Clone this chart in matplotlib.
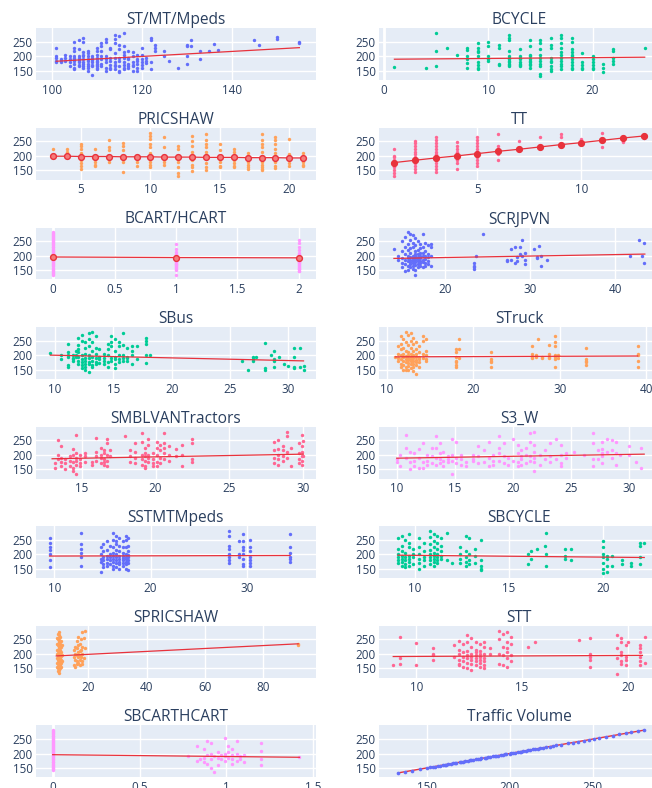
import numpy as np
import matplotlib
matplotlib.use("Agg")
import matplotlib.pyplot as plt
from matplotlib.ticker import FuncFormatter

plt.rcParams['font.family'] = ['Open Sans', 'DejaVu Sans']

# ---- data: (x, [traffic volume values]) columns ----
st_cols = [(101, [230, 200, 195, 183, 182]), (102, [190, 185, 180]), (103, [205, 195, 183]),
           (104, [200, 190, 182, 165]), (105, [250, 230, 220, 200, 195, 190, 185, 175, 160, 155]),
           (106, [255, 225, 200, 195, 190, 185, 180, 170, 165]),
           (107, [265, 250, 215, 205, 200, 190, 180, 172, 165, 160]),
           (108, [220, 210, 200, 190, 185, 175, 165, 160, 150]), (109, [200, 195, 188, 180, 170, 165, 135]),
           (110, [230, 220, 205, 195, 190, 185, 180, 175, 170, 165, 160, 155]),
           (111, [245, 235, 220, 200, 190, 175, 165]), (112, [260, 250, 200, 190, 180, 160, 150]),
           (113, [230, 225, 195, 185, 170, 160, 155]), (114, [275, 260, 245, 210, 195, 180, 170, 165, 155]),
           (115, [270, 240, 225, 195, 185, 165, 150, 145]), (116, [280, 235, 215, 205, 195, 180, 170, 160, 155]),
           (117, [220, 195, 190, 175, 165, 160]), (118, [215, 200, 180, 170, 165, 150]),
           (119, [205, 190, 185, 175, 160, 150]), (120, [228, 205, 190, 180, 170, 160]),
           (121, [195, 185, 178]), (122, [265, 258, 182, 155]), (123, [240, 230, 218]), (125, [220, 200]),
           (126, [183]), (128, [158]), (130, [240, 235, 200, 172]), (131, [255, 235]), (133, [220, 190]),
           (135, [220]), (136, [242]), (137, [222]), (145, [255]), (146, [240]), (150, [268, 260]),
           (155, [250, 245])]
st_trend = [(101, 183), (155, 230)]

bcycle_cols = [(1, [163]), (4, [158]), (5, [280, 220, 165]), (6, [228]), (7, [203]),
               (8, [228, 222, 200, 190, 178, 160]), (9, [245, 230, 220, 215, 200, 180, 170, 160, 155]),
               (10, [248, 235, 200, 190, 185]), (11, [240, 228, 175, 170]),
               (12, [275, 265, 255, 220, 200, 195, 190, 185, 180, 175, 170, 165]),
               (13, [225, 200, 195, 190, 180, 175, 170, 165]),
               (14, [255, 235, 205, 200, 190, 185, 180, 175, 170, 160]),
               (15, [255, 245, 225, 205, 195, 185, 175, 165, 140, 132]),
               (16, [265, 240, 230, 195, 185, 180, 165, 155, 150]),
               (17, [275, 265, 245, 230, 215, 205, 195, 185, 175, 165, 155]),
               (18, [265, 250, 225, 215, 205, 200, 190, 180, 170, 160, 155]),
               (19, [212, 180, 170, 160, 155]), (20, [200, 190, 180, 170, 160, 155]),
               (21, [175, 160, 145]), (22, [225, 220, 195, 185, 175]), (25, [228])]
bcycle_trend = [(1, 190), (25, 197)]

pricshaw_cols = [(3, [225, 200]), (4, [225, 215, 205, 200]),
                 (5, [240, 235, 225, 210, 195, 185, 175, 165, 155]), (6, [225, 200, 190, 180, 170, 165]),
                 (7, [255, 230, 220, 200, 190, 180]), (8, [245, 235, 220, 200, 190, 180, 145]),
                 (9, [200, 180, 165]), (10, [280, 270, 260, 240, 230, 210, 200, 190, 180, 170, 160]),
                 (11, [265, 230, 200, 190, 180, 170]), (12, [235, 225, 200, 190, 180, 160, 140, 130]),
                 (13, [270, 250, 235, 215, 195, 185, 170, 160, 148]),
                 (14, [275, 255, 240, 230, 215, 200, 190, 175, 160, 150]),
                 (15, [240, 220, 200, 190, 180, 165, 160]), (16, [225, 215, 195, 185, 175, 165, 160]),
                 (17, [210, 195, 180, 170, 160, 155]),
                 (18, [275, 255, 240, 230, 215, 200, 190, 180, 170, 160, 155, 150]),
                 (19, [265, 255, 240, 225, 210, 195, 180, 165, 158]), (20, [258, 205, 190, 175, 165]),
                 (21, [210, 195, 180, 170, 165])]
pricshaw_trend = [(3, 199), (4, 199), (5, 198), (6, 198), (7, 198), (8, 197), (9, 197), (10, 197),
                  (11, 196), (12, 196), (13, 196), (14, 195), (15, 195), (16, 195), (17, 194),
                  (18, 194), (19, 194), (20, 193), (21, 193)]

tt_cols = [(1, [225, 200, 195, 185, 178, 170, 165, 160, 150, 140, 130]),
           (2, [250, 245, 235, 225, 215, 205, 195, 185, 175, 165, 155, 145]),
           (3, [265, 255, 245, 235, 225, 215, 205, 195, 185, 175, 165, 155, 145]),
           (4, [248, 235, 225, 215, 205, 195, 185, 175, 155]),
           (5, [265, 255, 245, 235, 225, 215, 205, 195, 185, 175, 165]),
           (6, [275, 235, 220, 205, 185]), (7, [250, 225]), (8, [265, 232]), (9, [275, 265, 240]),
           (10, [260, 248]), (11, [280, 255, 232]), (12, [262, 248]), (13, [268, 262])]
tt_trend = [(1, 177), (2, 185), (3, 193), (4, 200), (5, 208), (6, 216), (7, 223), (8, 231),
            (9, 239), (10, 246), (11, 254), (12, 262), (13, 269)]

bcart_cols = [(0, [282, 279, 275, 272, 268, 264, 261, 257, 253, 250, 246, 242, 239, 235, 231, 228,
                   224, 220, 217, 213, 209, 206, 202, 198, 195, 191, 188, 184, 180, 177, 173, 169,
                   166, 162, 158, 155, 151, 147, 144, 140, 137, 134]),
              (1, [241, 224, 212, 206, 203, 199, 196, 193, 190, 187, 184, 181, 178, 175, 172, 169,
                   166, 163, 160, 157, 154, 151, 133]),
              (2, [255, 243, 230, 218, 207, 204, 200, 197, 194, 191, 188, 185, 182, 179, 176, 173,
                   170, 167, 164, 161, 158, 155, 152, 148, 145])]
bcart_trend = [(0, 195), (1, 193), (2, 192)]

scrjpvn_cols = [(14.0, [222]), (14.5, [200, 185]), (15.0, [250, 215, 190, 175, 160]),
                (15.3, [265, 230, 205, 185, 170, 145]), (15.6, [280, 240, 220, 200, 190, 180, 165, 150]),
                (15.9, [275, 255, 225, 210, 195, 185, 178, 170, 160]),
                (16.2, [270, 245, 230, 200, 192, 186, 180, 175, 165, 155]),
                (16.5, [260, 235, 215, 205, 198, 190, 183, 176, 168, 150, 133]),
                (16.8, [250, 220, 205, 195, 188, 180, 172, 160]),
                (17.1, [240, 225, 210, 200, 190, 182, 175, 165]),
                (17.4, [275, 230, 210, 198, 185, 178, 160]), (17.7, [245, 215, 200, 188, 175, 165]),
                (18.0, [235, 205, 195, 180, 170]), (18.4, [240, 230, 200, 165]),
                (23.4, [175, 165, 160, 155]), (23.6, [197]), (24.5, [275]), (27.3, [185, 180]),
                (27.8, [222, 183]), (28.2, [228, 175]), (28.5, [195, 180]), (28.8, [230, 205]),
                (29.1, [255, 198]), (29.4, [210, 185, 170]), (30.5, [222]), (30.8, [195, 190]),
                (31.0, [232]), (31.3, [200, 165]), (32.0, [185]), (41.8, [198]), (42.8, [255]),
                (43.2, [200]), (43.4, [245, 175])]
scrjpvn_trend = [(14, 190), (43.5, 205)]

sbus_cols = [(9.6, [207]), (10.5, [200, 187]), (11.1, [240, 210, 200, 193, 165, 160]),
             (11.5, [200, 190, 185, 178]), (11.8, [215, 200, 195]),
             (12.0, [260, 235, 220, 210, 195, 180, 170]), (12.3, [270, 250, 200, 185, 175, 165, 155]),
             (12.6, [245, 225, 205, 190, 180, 170, 160, 148]),
             (12.9, [275, 255, 230, 200, 190, 175, 168, 140]), (13.2, [280, 245, 215, 195, 180, 165, 160]),
             (13.5, [265, 225, 205, 190, 175, 168]), (13.8, [222, 195, 185, 172]),
             (14.2, [205, 190, 180, 170]), (14.5, [240, 220, 200, 175, 160]),
             (14.8, [265, 245, 230, 190, 180]), (15.1, [255, 215, 195, 185, 170, 155]),
             (15.5, [245, 230, 200, 185, 175]), (15.8, [275, 235, 200, 190, 178]),
             (16.2, [225, 195, 190, 180]), (16.6, [230, 215, 200, 170]), (17.0, [230, 185]),
             (17.8, [258, 250, 240, 200, 172]), (18.1, [200]), (26.0, [180]), (26.5, [150]),
             (27.0, [192, 185, 178]), (27.2, [195]), (28.0, [243, 155, 150]), (28.5, [200]),
             (28.8, [215, 185, 178, 160]), (29.2, [195]), (29.6, [168]), (30.0, [163]),
             (30.5, [225, 195, 160, 155]), (31.0, [225, 158]), (31.3, [162, 150])]
sbus_trend = [(9.6, 200), (31.3, 180)]

struck_cols = [(11.0, [195]), (11.3, [230, 205, 190, 180]), (11.6, [265, 240, 220, 200, 185, 170, 160]),
               (11.9, [255, 225, 205, 195, 180, 165, 150]), (12.2, [280, 245, 215, 198, 188, 175, 160, 148]),
               (12.5, [270, 235, 210, 200, 190, 182, 172, 162, 150]),
               (12.8, [275, 250, 225, 205, 195, 185, 178, 168, 155]),
               (13.1, [260, 240, 215, 200, 190, 180, 170, 160, 145]),
               (13.4, [245, 220, 205, 195, 183, 175, 165, 135]), (13.7, [230, 210, 195, 185, 175, 160]),
               (14.2, [265, 250, 205, 190]), (14.6, [255, 215, 200, 185, 180]),
               (18.0, [220, 210, 195, 180, 175, 165, 160]), (18.4, [255, 220, 190]),
               (22.0, [210, 185, 180, 175, 160]), (26.8, [230, 205, 195, 190]), (27.2, [200, 195]),
               (27.5, [255]), (28.0, [195, 190]), (28.8, [235, 205, 195, 190]),
               (29.5, [265, 245, 230, 200, 195, 185, 160]), (29.8, [200, 190]),
               (33.0, [225, 185, 180, 175, 165]), (39.0, [230, 205, 200, 180, 160])]
struck_trend = [(11, 194), (39, 197)]

smblvan_cols = [(13.2, [170, 155]), (13.4, [250, 200, 185]), (13.6, [230, 190, 175, 160]),
                (13.9, [185, 170, 150]), (14.2, [195, 180, 160]), (14.4, [220, 200, 175, 155, 145]),
                (14.6, [270, 205, 190, 180, 165, 135]), (14.9, [200, 185, 170, 160]),
                (15.2, [205, 195, 175]), (15.7, [175, 165]), (16.0, [258, 210, 195, 180]),
                (16.3, [225, 200, 190, 170]), (16.5, [215, 205, 185, 175, 165]),
                (16.7, [255, 240, 200, 180, 160]), (16.9, [215, 195]), (17.9, [265]),
                (18.3, [215, 195, 175]), (18.6, [240, 210, 190, 170]), (19.1, [275, 245, 200, 185, 165]),
                (19.3, [225, 205, 195, 180, 160, 155]), (19.5, [255, 235, 200, 190, 175]),
                (19.8, [205, 185, 170, 160]), (20.1, [245, 225, 200, 175, 160]),
                (20.3, [235, 215, 190, 170]), (20.6, [275, 240, 225, 205, 185]), (20.9, [230, 200, 180]),
                (21.4, [220, 195]), (21.8, [235, 200, 160]), (22.5, [255, 240, 185, 175]),
                (28.0, [245, 215, 190, 170]), (28.3, [250, 220, 200, 185, 165]),
                (28.6, [230, 215, 195, 180]), (28.9, [280, 265, 210, 190]), (29.2, [225, 160]),
                (29.7, [240, 205, 185, 170]), (29.9, [270, 230, 210, 195, 180, 165]), (30.0, [248, 195])]
smblvan_trend = [(13, 186), (30, 202)]

s3w_cols = [(10.0, [185, 175]), (10.3, [200, 160]), (10.8, [268, 225, 190]), (11.1, [210, 175, 150]),
            (11.5, [205, 180, 160]), (11.9, [220, 190, 155]), (12.3, [240, 175, 155]),
            (12.6, [200, 180, 165]), (13.0, [225, 195, 170]), (13.4, [265, 225, 190, 165]),
            (13.7, [240, 205, 185, 170]), (14.0, [210, 180, 160]), (14.4, [195, 185, 175]),
            (14.8, [255, 200, 180, 135]), (15.1, [245, 190, 170]), (15.5, [200, 185, 165]),
            (16.0, [175, 160]), (16.6, [200, 185, 180]), (17.0, [230, 195, 170]), (17.5, [215, 175]),
            (17.9, [245, 190, 160]), (18.3, [200, 180, 165]), (18.8, [265, 225, 205, 180]),
            (19.2, [240, 195, 170]), (19.6, [190, 165]), (20.0, [255, 180]), (20.4, [235, 205, 175, 160]),
            (20.7, [215, 195, 185, 165]), (21.1, [225, 200, 170]), (21.5, [275, 245, 195, 180]),
            (21.8, [280, 235, 210, 190, 175, 145]), (22.3, [200, 165]), (22.8, [215, 185]),
            (23.2, [240, 195, 175]), (23.7, [255, 185]), (24.1, [235, 200, 170, 160]),
            (24.6, [205, 190]), (25.3, [210]), (26.1, [200]), (26.9, [275, 240, 185, 160]),
            (27.3, [215, 185]), (27.7, [245, 220, 205, 195, 170]), (28.1, [255, 210]),
            (28.5, [250, 215, 190]), (28.9, [245, 205, 165]), (29.2, [200]), (30.0, [230, 200]),
            (30.6, [175]), (31.0, [225, 155])]
s3w_trend = [(10, 188), (31.3, 202)]

sstmt_cols = [(9.5, [255, 240, 225, 215, 200, 180, 155]), (12.8, [275, 235, 220, 205, 190, 158]),
              (14.8, [225, 200, 185, 175, 140]), (15.1, [235, 210, 190, 180, 165, 155]),
              (15.5, [245, 215, 195, 185, 170, 160]), (15.8, [230, 200, 190, 180, 165]),
              (16.1, [275, 250, 225, 205, 195, 185, 175, 160, 150]),
              (16.4, [265, 245, 235, 215, 200, 190, 180, 170, 155]),
              (16.7, [255, 230, 210, 195, 185, 175, 165, 150]),
              (17.1, [245, 225, 205, 195, 188, 180, 170, 160]),
              (17.4, [265, 250, 225, 200, 192, 185, 175, 165, 150]),
              (17.7, [255, 230, 210, 198, 190, 180, 170, 145]),
              (28.2, [280, 265, 230, 220, 200, 190, 180, 170]), (29.2, [245, 200, 190]),
              (29.6, [270, 245, 225, 215, 200, 185, 165, 160]), (30.3, [250, 225, 210, 190, 180, 170, 160]),
              (34.5, [270, 225, 205, 190, 185, 175])]
sstmt_trend = [(9.5, 194), (34.5, 196)]

sbcycle_cols = [(9.1, [255, 220, 200, 190, 180, 170]), (9.3, [265, 230, 210, 195, 185, 175, 160]),
                (9.5, [250, 205, 190, 180, 165, 155]), (9.7, [270, 240, 225, 195, 185, 175, 160]),
                (9.9, [220, 200, 190, 165]), (10.2, [255, 225, 200, 185, 170, 150]),
                (10.5, [240, 210, 190, 180, 160]), (10.8, [280, 260, 235, 215, 200, 190, 180, 165]),
                (11.0, [270, 245, 225, 205, 195, 185, 175, 160]),
                (11.2, [265, 240, 220, 200, 190, 180, 170]), (11.4, [255, 230, 210, 195, 185]),
                (11.7, [275, 180]), (12.0, [170]), (12.4, [225, 200, 185, 170]),
                (12.7, [265, 210, 190, 175, 160]), (12.9, [255, 200, 180, 165]), (13.2, [220, 195, 170]),
                (13.5, [248, 180, 160, 150, 145]), (16.0, [200, 165]), (16.2, [210, 185]), (16.5, [220]),
                (16.9, [230]), (17.0, [275, 200, 160]), (18.0, [220, 195, 185]), (18.3, [220, 180]),
                (20.0, [245, 225, 200, 190, 170, 150, 135]), (20.2, [195, 185, 160, 140]),
                (20.5, [195, 160]), (21.0, [180, 165]), (21.5, [170, 160]), (22.0, [240, 230, 190, 165]),
                (22.2, [240])]
sbcycle_trend = [(9.1, 197), (22.2, 189)]

spricshaw_cols = [(9.2, [255, 235, 215, 200, 185, 170, 155]),
                  (9.5, [270, 250, 230, 210, 195, 180, 165, 150, 140]),
                  (9.8, [265, 245, 225, 205, 190, 178, 168, 158, 145, 133]),
                  (10.1, [275, 255, 240, 220, 200, 188, 175, 160, 148]),
                  (10.4, [260, 235, 212, 198, 185, 172, 162, 150]),
                  (10.7, [245, 225, 205, 192, 180, 168, 155]), (11.0, [230, 195, 175]),
                  (15.0, [215, 190, 160]), (15.5, [225, 200, 180, 155]), (16.0, [245, 220, 195, 175, 165]),
                  (16.5, [260, 230, 205, 190, 170]), (17.0, [235, 210, 195, 180, 160]),
                  (17.5, [250, 215, 190]), (18.0, [275, 225, 200, 175, 165]), (18.5, [255, 185]),
                  (19.0, [280, 220]), (92, [235, 230])]
spricshaw_trend = [(9, 193), (92, 235)]

stt_cols = [(8.9, [163]), (9.2, [258, 185, 165]), (10.0, [238, 160]), (10.8, [220, 200, 195, 180]),
            (11.8, [230, 190]), (12.0, [245, 215, 200, 180, 165, 160]), (12.2, [235, 205, 190, 175, 155]),
            (12.4, [265, 240, 210, 195, 185, 170, 150]), (12.6, [255, 225, 200, 190, 180, 165, 145]),
            (12.8, [240, 215, 205, 195, 185, 175, 160]), (13.0, [235, 210, 200, 190, 180, 170, 155]),
            (13.2, [240, 225, 200, 185, 175, 160, 150]), (13.5, [220, 200]), (13.9, [280, 250, 200, 165]),
            (14.1, [270, 225, 195, 160]), (14.3, [275, 240, 220, 205, 185, 155]),
            (14.5, [260, 235, 195, 175]), (15.3, [225]), (15.6, [242]), (17.7, [248]),
            (18.2, [255, 200, 190, 180, 155]), (19.5, [265, 220, 185, 130]),
            (19.7, [255, 240, 205, 195, 175, 165]), (19.9, [230, 190, 180, 160]), (20.0, [240]),
            (20.6, [232, 220, 205, 190, 175, 160]), (20.8, [258, 170])]
stt_trend = [(8.9, 191), (20.7, 195)]

sbcart_cols = [(0, [280, 277, 273, 270, 266, 262, 259, 255, 252, 248, 244, 241, 237, 234, 230, 226,
                    223, 219, 216, 212, 208, 205, 201, 198, 194, 190, 187, 183, 180, 176, 172, 169,
                    165, 162, 158, 154, 151, 147, 144]),
               (0.78, [190]), (0.83, [225, 175]), (0.85, [180]), (0.87, [215, 185, 170]),
               (0.89, [245, 195, 165]), (0.91, [235, 200, 180, 150]), (0.93, [190, 135]),
               (0.95, [205, 185, 160]), (0.97, [195, 180]), (0.99, [255, 200, 190, 175]),
               (1.01, [225, 205, 185]), (1.03, [215, 195, 180, 165]), (1.06, [245, 200, 175]),
               (1.08, [190, 180]), (1.10, [195, 170]), (1.20, [235, 210, 180, 160]), (1.42, [188])]
sbcart_trend = [(0, 196), (1.42, 187)]

traffic_vals = [133, 137, 141, 146, 150, 152, 154, 155, 157, 158, 160, 161, 162, 163, 165, 166,
                167, 168, 170, 171, 172, 173, 175, 176, 177, 178, 180, 181, 182, 183, 185, 186,
                187, 188, 190, 191, 192, 193, 195, 196, 197, 198, 200, 201, 202, 203, 205, 206,
                207, 208, 210, 211, 212, 214, 215, 217, 218, 220, 222, 224, 226, 228, 231, 235,
                238, 241, 245, 248, 251, 254, 258, 262, 266, 270, 273, 277, 281]
traffic_cols = [(v, [v]) for v in traffic_vals]
traffic_trend = [(133, 133), (281, 281)]

titles = ["ST/MT/Mpeds", "BCYCLE", "PRICSHAW", "TT", "BCART/HCART", "SCRJPVN", "SBus", "STruck",
          "SMBLVANTractors", "S3_W", "SSTMTMpeds", "SBCYCLE", "SPRICSHAW", "STT", "SBCARTHCART",
          "Traffic Volume"]
cols_all = [st_cols, bcycle_cols, pricshaw_cols, tt_cols, bcart_cols, scrjpvn_cols, sbus_cols,
            struck_cols, smblvan_cols, s3w_cols, sstmt_cols, sbcycle_cols, spricshaw_cols, stt_cols,
            sbcart_cols, traffic_cols]
trends = [st_trend, bcycle_trend, pricshaw_trend, tt_trend, bcart_trend, scrjpvn_trend, sbus_trend,
          struck_trend, smblvan_trend, s3w_trend, sstmt_trend, sbcycle_trend, spricshaw_trend,
          stt_trend, sbcart_trend, traffic_trend]

# layout / style
palette = ["#636EFA", "#00CC96", "#FFA15A", "#FF6692", "#FF97FF"]
xlims = [(96.5, 158.7), (-0.45, 26.4), (1.76, 21.92), (0.28, 13.75), (-0.14, 2.14), (12.28, 45.2),
         (8.37, 32.37), (9.15, 41.5), (11.91, 30.86), (8.5, 32.6), (8.09, 37.2), (8.11, 23.0),
         (2.05, 98.1), (8.24, 21.5), (-0.096, 1.515), (121.6, 290)]
xticks = [[100, 120, 140], [0, 10, 20], [5, 10, 15, 20], [5, 10], [0, 0.5, 1, 1.5, 2], [20, 30, 40],
          [10, 15, 20, 25, 30], [10, 20, 30, 40], [15, 20, 25, 30], [10, 15, 20, 25, 30], [10, 20, 30],
          [10, 15, 20], [20, 40, 60, 80], [10, 15, 20], [0, 0.5, 1, 1.5], [150, 200, 250]]
mean_panels = {2: 'ring', 3: 'solid', 4: 'ring'}

W, H = 652, 788
fig = plt.figure(figsize=(W / 100, H / 100), dpi=100)
txt = "#2a3f5f"
fmt = FuncFormatter(lambda v, p: "{:g}".format(v))

for i in range(16):
    r, c = divmod(i, 2)
    left = 36 if c == 0 else 379.3
    top = 28.3 + 99.6 * r
    ax = fig.add_axes([left / W, 1 - (top + 52) / H, 280 / W, 52 / H])
    ax.set_facecolor("#E5ECF6")
    for s in ax.spines.values():
        s.set_visible(False)
    ax.grid(color="white", lw=1)
    ax.set_axisbelow(True)
    xs, ys = [], []
    for x, yl in cols_all[i]:
        xs += [x] * len(yl)
        ys += yl
    col = palette[i % 5]
    tx = [p[0] for p in trends[i]]
    ty = [p[1] for p in trends[i]]
    if i == 15:
        ax.plot(tx, ty, color="#e8323c", lw=1, zorder=2)
        ax.scatter(xs, ys, s=7, color=col, linewidths=0, zorder=3)
    else:
        ax.scatter(xs, ys, s=6, color=col, linewidths=0, zorder=2)
        if i in mean_panels:
            face = "#e8323c" if mean_panels[i] == 'solid' else "#f47c7c"
            ax.plot(tx, ty, color="#e8323c", lw=0.9, marker="o", ms=4.2, mfc=face, mec="#e8323c",
                    mew=1, zorder=3)
        else:
            ax.plot(tx, ty, color="#e8323c", lw=0.9, zorder=3)
    lo, hi = xlims[i]
    if lo < 0 < hi:
        ax.axvline(0, color="white", lw=2, zorder=0.8)
    ax.set_xlim(lo, hi)
    ax.set_ylim(117, 297)
    ax.set_xticks(xticks[i])
    ax.set_yticks([150, 200, 250])
    ax.xaxis.set_major_formatter(fmt)
    ax.tick_params(length=0, labelsize=8.4, colors=txt, pad=2.5)
    ax.set_title(titles[i], fontsize=11.2, color=txt, pad=2.4)

fig.savefig("out.png", dpi=100)
